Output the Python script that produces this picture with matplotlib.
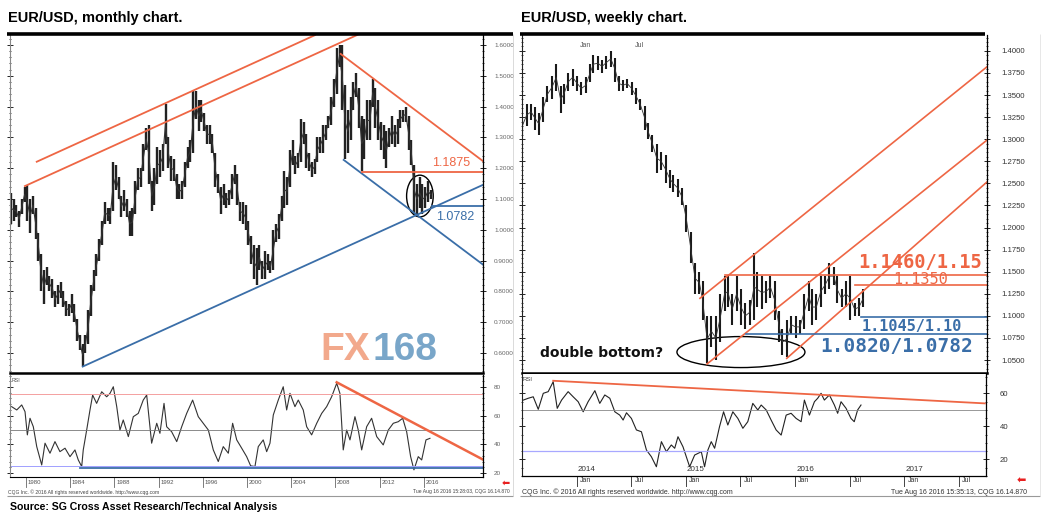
import numpy as np
import matplotlib
matplotlib.use('Agg')
import matplotlib.pyplot as plt
from matplotlib.patches import Ellipse
from matplotlib.lines import Line2D
from matplotlib.ticker import MultipleLocator, FixedLocator

# ---------------- data: monthly chart (quarterly bar ranges) ----------------
m_start = 1978.5
m_lo = [
    1.02, 1.03,
    1.04, 1.01, 1.05, 1.09,
    1.03, 0.99, 1.05, 0.97,
    0.90, 0.80, 0.76, 0.82,
    0.80, 0.78, 0.75, 0.76,
    0.78, 0.75, 0.72, 0.72,
    0.73, 0.70, 0.64, 0.61,
    0.557, 0.60, 0.63, 0.72,
    0.80, 0.85, 0.90, 0.95,
    1.02, 1.03, 1.02, 1.06,
    1.13, 1.10, 1.04, 1.06,
    1.04, 0.98, 0.98, 1.05,
    1.13, 1.14, 1.19, 1.26,
    1.15, 1.06, 1.08, 1.15,
    1.17, 1.19, 1.28, 1.20,
    1.16, 1.16, 1.10, 1.10,
    1.10, 1.14, 1.20, 1.22,
    1.25, 1.36, 1.32, 1.35,
    1.32, 1.28, 1.28, 1.25,
    1.14, 1.12, 1.05, 1.08,
    1.07, 1.08, 1.10, 1.15,
    1.08, 1.03, 1.02, 1.00,
    0.95, 0.89, 0.84, 0.82,
    0.87, 0.84, 0.84, 0.87,
    0.86, 0.87, 0.96, 0.97,
    1.03, 1.07, 1.08, 1.14,
    1.21, 1.18, 1.20, 1.22,
    1.28, 1.20, 1.19, 1.17,
    1.18, 1.22, 1.25, 1.25,
    1.29, 1.33, 1.34, 1.40,
    1.44, 1.53, 1.39, 1.23,
    1.25, 1.29, 1.39, 1.43,
    1.33, 1.19, 1.23, 1.29,
    1.29, 1.40, 1.33, 1.29,
    1.26, 1.23, 1.20, 1.27,
    1.28, 1.27, 1.28, 1.33,
    1.35, 1.35, 1.26, 1.21,
    1.05, 1.05, 1.07, 1.05,
    1.07, 1.09, 1.10,
]
m_hi = [
    1.12, 1.10,
    1.08, 1.06, 1.10, 1.14,
    1.145, 1.10, 1.11, 1.07,
    0.99, 0.92, 0.87, 0.88,
    0.85, 0.84, 0.80, 0.82,
    0.83, 0.80, 0.77, 0.76,
    0.79, 0.76, 0.71, 0.66,
    0.63, 0.66, 0.74, 0.82,
    0.87, 0.92, 0.97, 1.03,
    1.09, 1.07, 1.07, 1.22,
    1.21, 1.17, 1.11, 1.13,
    1.10, 1.06, 1.07, 1.16,
    1.20, 1.20, 1.28, 1.33,
    1.34, 1.16, 1.20, 1.27,
    1.26, 1.28, 1.41, 1.30,
    1.24, 1.23, 1.18, 1.15,
    1.16, 1.22, 1.27, 1.29,
    1.45, 1.45, 1.42, 1.42,
    1.38, 1.34, 1.34, 1.31,
    1.25, 1.18, 1.14, 1.15,
    1.12, 1.13, 1.18, 1.21,
    1.18, 1.09, 1.09, 1.08,
    1.03, 0.98, 0.95, 0.94,
    0.95, 0.90, 0.93, 0.92,
    0.90, 1.00, 1.02, 1.05,
    1.11, 1.19, 1.17, 1.26,
    1.29, 1.24, 1.25, 1.36,
    1.35, 1.31, 1.25, 1.22,
    1.23, 1.30, 1.30, 1.34,
    1.34, 1.37, 1.43, 1.49,
    1.59, 1.60, 1.60, 1.47,
    1.39, 1.43, 1.48, 1.51,
    1.46, 1.37, 1.36, 1.42,
    1.42, 1.49, 1.46, 1.42,
    1.35, 1.34, 1.32, 1.33,
    1.37, 1.34, 1.36, 1.39,
    1.39, 1.40, 1.37, 1.29,
    1.21, 1.15, 1.17, 1.15,
    1.14, 1.16, 1.13,
]
m_rsi_t = [1978.70, 1979.16, 1979.61, 1979.91, 1980.12, 1980.36, 1980.66, 1980.97, 1981.42,
           1981.72, 1982.17, 1982.62, 1983.07, 1983.53, 1983.98, 1984.43, 1984.73, 1985.04,
           1985.18, 1985.49, 1985.79, 1986.03, 1986.39, 1986.85, 1987.30, 1987.60, 1987.90,
           1988.21, 1988.50, 1988.80, 1989.26, 1989.71, 1990.16, 1990.61, 1990.92, 1991.37,
           1991.83, 1992.12, 1992.49, 1992.73, 1993.18, 1993.64, 1994.09, 1994.54, 1995.08,
           1995.59, 1996.04, 1996.50, 1996.95, 1997.40, 1997.85, 1998.31, 1998.70, 1999.07,
           1999.52, 1999.97, 2000.33, 2000.72, 2001.02, 2001.47, 2001.78, 2002.08, 2002.38,
           2002.83, 2003.28, 2003.59, 2003.89, 2004.34, 2004.64, 2005.09, 2005.40, 2005.85,
           2006.31, 2006.76, 2007.21, 2007.66, 2008.12, 2008.41, 2008.71, 2009.02, 2009.32,
           2009.77, 2010.07, 2010.38, 2010.83, 2011.28, 2011.74, 2012.33, 2012.79, 2013.24,
           2013.69, 2014.09, 2014.45, 2014.81, 2015.11, 2015.50, 2015.81, 2016.20, 2016.56]
m_rsi = [66.3, 64.0, 67.5, 62.8, 46.6, 58.2, 52.3, 38.4, 25.6,
         40.8, 33.8, 41.9, 34.9, 37.3, 31.4, 36.1, 29.1, 24.5,
         36.1, 50.0, 64.0, 74.4, 68.6, 76.7, 73.2, 75.6, 80.2,
         66.3, 50.0, 57.0, 45.4, 59.3, 61.6, 70.9, 74.4, 40.8,
         54.7, 47.7, 68.6, 52.3, 48.8, 41.9, 52.3, 61.6, 70.9,
         59.3, 54.7, 50.0, 36.1, 28.0, 38.4, 33.8, 54.7, 43.1,
         37.3, 31.4, 25.0, 24.5, 38.4, 43.1, 34.9, 40.8, 60.5,
         70.9, 80.2, 64.0, 75.6, 66.3, 70.9, 64.0, 52.3, 46.6,
         54.7, 61.6, 66.3, 73.2, 82.6, 75.6, 36.1, 50.0, 43.1,
         59.3, 50.0, 36.1, 52.3, 58.2, 45.4, 39.6, 50.0, 54.7,
         55.8, 58.2, 48.8, 31.4, 22.2, 31.4, 29.1, 43.1, 44.2]

# trend lines / levels on the monthly chart (date, price)
m_red_up1 = ([1980.97, 2006.15], [1.221, 1.632])
m_red_up2 = ([1979.90, 2010.00], [1.142, 1.633])
m_red_down = ([2008.48, 2021.36], [1.571, 1.223])
m_blue_up = ([1985.13, 2021.36], [0.556, 1.146])
m_blue_down = ([2008.75, 2021.36], [1.227, 0.887])
m_red_level = (2010.38, 1.1875)
m_blue_level = (2016.70, 1.0782)
m_rsi_red = ([2008.12, 2021.30], [83.3, 29.6])
m_rsi_blue = (1984.9, 23.5)
m_years = [1980, 1984, 1988, 1992, 1996, 2000, 2004, 2008, 2012, 2016]

# ---------------- data: weekly chart (two-week bar ranges) ----------------
w_dates = [2013.50, 2013.54, 2013.58, 2013.62, 2013.65, 2013.69, 2013.73, 2013.77, 2013.81, 2013.85,
           2013.88, 2013.92, 2013.96, 2014.00, 2014.04, 2014.08, 2014.12, 2014.15, 2014.19, 2014.23,
           2014.27, 2014.31, 2014.35, 2014.38, 2014.42, 2014.46, 2014.50, 2014.54, 2014.58, 2014.62,
           2014.65, 2014.69, 2014.73, 2014.77, 2014.81, 2014.85, 2014.88, 2014.92, 2014.96, 2015.00,
           2015.04, 2015.08, 2015.12, 2015.15, 2015.19, 2015.23, 2015.27, 2015.31, 2015.35, 2015.38,
           2015.42, 2015.46, 2015.50, 2015.54, 2015.58, 2015.62, 2015.65, 2015.69, 2015.73, 2015.77,
           2015.81, 2015.85, 2015.88, 2015.92, 2015.96, 2016.00, 2016.04, 2016.08, 2016.12, 2016.15,
           2016.19, 2016.23, 2016.27, 2016.31, 2016.35, 2016.38, 2016.42, 2016.46, 2016.50, 2016.54,
           2016.58, 2016.62]
w_lo = [1.305, 1.315, 1.322, 1.310, 1.305, 1.320, 1.342, 1.345, 1.355, 1.330,
        1.340, 1.355, 1.360, 1.355, 1.350, 1.352, 1.365, 1.375, 1.378, 1.375,
        1.380, 1.382, 1.365, 1.355, 1.355, 1.358, 1.350, 1.340, 1.333, 1.310,
        1.300, 1.285, 1.262, 1.265, 1.250, 1.245, 1.240, 1.235, 1.225, 1.195,
        1.160, 1.125, 1.125, 1.095, 1.047, 1.065, 1.050, 1.070, 1.105, 1.110,
        1.090, 1.105, 1.090, 1.085, 1.090, 1.095, 1.110, 1.108, 1.115, 1.120,
        1.095, 1.070, 1.056, 1.053, 1.080, 1.075, 1.080, 1.085, 1.105, 1.090,
        1.095, 1.110, 1.125, 1.130, 1.135, 1.115, 1.110, 1.110, 1.095, 1.100,
        1.100, 1.110]
w_hi = [1.325, 1.340, 1.340, 1.336, 1.330, 1.348, 1.360, 1.372, 1.385, 1.360,
        1.362, 1.375, 1.380, 1.372, 1.365, 1.370, 1.385, 1.395, 1.394, 1.390,
        1.394, 1.400, 1.392, 1.372, 1.367, 1.368, 1.365, 1.358, 1.345, 1.338,
        1.318, 1.305, 1.295, 1.285, 1.282, 1.265, 1.260, 1.255, 1.245, 1.225,
        1.195, 1.160, 1.150, 1.140, 1.100, 1.100, 1.100, 1.125, 1.145, 1.145,
        1.125, 1.145, 1.130, 1.115, 1.118, 1.171, 1.150, 1.145, 1.140, 1.145,
        1.140, 1.105, 1.085, 1.095, 1.100, 1.100, 1.095, 1.125, 1.140, 1.130,
        1.125, 1.145, 1.145, 1.160, 1.155, 1.145, 1.130, 1.140, 1.145, 1.115,
        1.120, 1.130]
w_rsi_t = [2013.509, 2013.554, 2013.600, 2013.646, 2013.692, 2013.737, 2013.783, 2013.820, 2013.860,
           2013.920, 2013.966, 2014.012, 2014.058, 2014.103, 2014.165, 2014.210, 2014.256, 2014.302,
           2014.348, 2014.393, 2014.424, 2014.455, 2014.500, 2014.546, 2014.592, 2014.638, 2014.683,
           2014.729, 2014.775, 2014.821, 2014.866, 2014.897, 2014.927, 2014.973, 2015.034, 2015.080,
           2015.141, 2015.171, 2015.201, 2015.232, 2015.263, 2015.308, 2015.345, 2015.384, 2015.430,
           2015.476, 2015.522, 2015.567, 2015.613, 2015.659, 2015.690, 2015.736, 2015.781, 2015.827,
           2015.873, 2015.919, 2015.964, 2016.010, 2016.056, 2016.086, 2016.132, 2016.178, 2016.208,
           2016.239, 2016.269, 2016.315, 2016.361, 2016.391, 2016.422, 2016.468, 2016.513, 2016.543,
           2016.574, 2016.605]
w_rsi = [55.9, 57.0, 57.9, 50.3, 60.0, 61.0, 67.0, 50.9, 55.9,
         61.0, 57.9, 54.9, 48.8, 54.9, 61.6, 53.9, 59.0, 57.0,
         48.8, 46.8, 43.8, 48.2, 44.8, 37.8, 36.7, 25.6, 21.6,
         15.5, 30.7, 24.6, 28.7, 26.7, 33.7, 27.6, 15.5, 22.6,
         24.6, 15.5, 25.6, 30.7, 26.7, 39.8, 48.8, 40.8, 48.8,
         44.8, 38.8, 42.8, 53.9, 49.9, 52.9, 49.9, 43.8, 37.8,
         34.7, 46.8, 47.9, 44.8, 42.8, 55.9, 46.8, 54.9, 57.0,
         60.0, 55.9, 59.0, 52.9, 47.9, 54.9, 50.9, 44.8, 42.8,
         49.9, 52.9]

w_red_ch1 = ([2015.125, 2017.772], [1.1199, 1.3841])
w_red_ch2 = ([2015.189, 2017.772], [1.0455, 1.3011])
w_red_ch3 = ([2015.919, 2017.772], [1.0519, 1.2539])
w_red_lvl1 = (2015.354, 1.1460)
w_red_lvl2 = (2016.543, 1.1350)
w_blue_lvl1 = (2016.60, 1.0990)
w_blue_lvl2 = (2015.55, 1.0790)
w_rsi_red = ([2013.783, 2017.74], [67.6, 53.9])
w_years = [2014, 2015, 2016, 2017]

# ---------------- styling ----------------
RED = '#ee6644'
BLUE = '#3a6ea8'
W, H = 1047, 523
fig = plt.figure(figsize=(W / 100, H / 100), dpi=100)
fig.patch.set_facecolor('white')
plt.rcParams['font.family'] = ['Liberation Sans', 'DejaVu Sans']


def px_axes(x0, y0, x1, y1):
    return fig.add_axes([x0 / W, 1 - y1 / H, (x1 - x0) / W, (y1 - y0) / H])


def fline(x0, x1, y0, y1, lw, color):
    fig.add_artist(Line2D([x0 / W, x1 / W], [1 - y0 / H, 1 - y1 / H],
                          transform=fig.transFigure, lw=lw, color=color,
                          solid_capstyle='butt'))


def ftext(x, y, s, **kw):
    fig.text(x / W, 1 - y / H, s, **kw)


def style_axes(ax, bottom_thick=False):
    for s in ['top', 'bottom', 'left', 'right']:
        ax.spines[s].set_visible(False)
    ax.spines['right'].set_visible(True)
    ax.spines['right'].set_linewidth(0.9)
    ax.spines['left'].set_visible(True)
    ax.spines['left'].set_color('#888888')
    ax.spines['left'].set_linewidth(0.8)
    if bottom_thick:
        ax.spines['bottom'].set_visible(True)
        ax.spines['bottom'].set_linewidth(1.8)
    ax.set_xticks([])
    ax.yaxis.tick_right()
    ax.tick_params(axis='y', which='major', direction='inout', length=4, width=0.6,
                   left=True, right=True, labelleft=False, labelright=True,
                   labelsize=4.6, labelcolor='#666666', pad=6)
    ax.tick_params(axis='y', which='minor', direction='inout', length=2, width=0.5,
                   left=True, right=True)


# ======================= LEFT: monthly =======================
ax1 = px_axes(10, 35, 483, 373)
m_t = m_start + 0.125 + 0.25 * np.arange(len(m_lo))
ax1.text(2006.6, 0.609, 'FX', color='#f2a98c', fontsize=28, fontweight='bold', va='center')
ax1.text(2011.4, 0.609, '168', color='#79a6c9', fontsize=28, fontweight='bold', va='center')
ax1.vlines(m_t, m_lo, m_hi, color='#222222', lw=1.7)
ax1.plot(m_t, (np.array(m_lo) + np.array(m_hi)) / 2, color='#333333', lw=0.8)
ax1.set_xlim(1978.55, 2021.36)
ax1.set_ylim(0.5351, 1.6325)
style_axes(ax1, bottom_thick=True)
ax1.yaxis.set_major_locator(FixedLocator(np.arange(0.6, 1.61, 0.1)))
ax1.yaxis.set_minor_locator(MultipleLocator(0.02))
ax1.set_yticklabels(['%.4f' % v for v in np.arange(0.6, 1.61, 0.1)])

for xs, ys in [m_red_up1, m_red_up2, m_red_down]:
    ax1.plot(xs, ys, color=RED, lw=1.3, clip_on=True)
for xs, ys in [m_blue_up, m_blue_down]:
    ax1.plot(xs, ys, color=BLUE, lw=1.3)
ax1.plot([m_red_level[0], 2021.36], [m_red_level[1]] * 2, color=RED, lw=1.3)
ax1.plot([m_blue_level[0], 2021.36], [m_blue_level[1]] * 2, color=BLUE, lw=1.3)
ax1.text(2016.75, m_red_level[1] + 0.03, '1.1875', color=RED, fontsize=9, va='center')
ax1.text(2017.1, m_blue_level[1] - 0.035, '1.0782', color=BLUE, fontsize=9, va='center')
ax1.add_patch(Ellipse((2015.65, 1.1097), 2.41, 0.1354, fill=False, color='black', lw=1.0))

ax2 = px_axes(10, 375, 483, 477)
ax2.plot(m_rsi_t, m_rsi, color='#333333', lw=0.8)
ax2.set_xlim(1978.55, 2021.36)
ax2.set_ylim(17.2, 88.4)
style_axes(ax2)
ax2.spines['bottom'].set_visible(True)
ax2.spines['bottom'].set_linewidth(0.8)
ax2.yaxis.set_major_locator(FixedLocator([20, 40, 60, 80]))
ax2.yaxis.set_minor_locator(MultipleLocator(4))
ax2.axhline(75, color='#f4a0a0', lw=0.7)
ax2.axhline(50, color='#777777', lw=0.6)
ax2.axhline(25, color='#a0a0ff', lw=0.7)
ax2.plot([m_rsi_blue[0], 2021.36], [m_rsi_blue[1]] * 2, color=BLUE, lw=1.3)
ax2.plot(*m_rsi_red, color=RED, lw=1.8)
ax2.text(0.003, 0.97, 'RSI', transform=ax2.transAxes, fontsize=3.8, color='#555555', va='top')
for yr in m_years:
    ax2.plot([yr, yr], [0, -0.1], transform=ax2.get_xaxis_transform(), color='#666666',
             lw=0.6, clip_on=False)
    ax2.text(yr + 0.15, -0.05, str(yr), transform=ax2.get_xaxis_transform(), fontsize=4.3,
             color='#555555', va='center')

# ======================= RIGHT: weekly =======================
ax3 = px_axes(522, 35, 987, 373)
ax3.vlines(w_dates, w_lo, w_hi, color='#1a1a1a', lw=1.5)
ax3.plot(w_dates, (np.array(w_lo) + np.array(w_hi)) / 2, color='#333333', lw=0.6)
ax3.set_xlim(2013.497, 2017.751)
ax3.set_ylim(1.0353, 1.418)
style_axes(ax3, bottom_thick=True)
ax3.spines['left'].set_color('#222222')
wt = np.arange(1.05, 1.4001, 0.025)
ax3.yaxis.set_major_locator(FixedLocator(wt))
ax3.yaxis.set_minor_locator(MultipleLocator(0.005))
ax3.set_yticklabels(['%.4f' % v for v in wt])
ax3.tick_params(axis='y', labelsize=5.6, labelcolor='#333333', pad=8)
for xs, ys in [w_red_ch1, w_red_ch2, w_red_ch3]:
    ax3.plot(xs, ys, color=RED, lw=1.2)
ax3.plot([w_red_lvl1[0], 2017.751], [w_red_lvl1[1]] * 2, color=RED, lw=1.2)
ax3.plot([w_red_lvl2[0], 2017.751], [w_red_lvl2[1]] * 2, color=RED, lw=1.2)
ax3.plot([w_blue_lvl1[0], 2017.751], [w_blue_lvl1[1]] * 2, color=BLUE, lw=1.2)
ax3.plot([w_blue_lvl2[0], 2017.751], [w_blue_lvl2[1]] * 2, color=BLUE, lw=1.2)
ax3.text(2016.57, 1.160, '1.1460/1.15', color=RED, fontsize=13.5, family='DejaVu Sans Mono',
         va='center', fontweight='bold')
ax3.text(2016.89, 1.1406, '1.1350', color=RED, fontsize=11, family='DejaVu Sans Mono',
         va='center')
ax3.text(2016.60, 1.0877, '1.1045/1.10', color=BLUE, fontsize=11, family='DejaVu Sans Mono',
         va='center', fontweight='bold')
ax3.text(2016.23, 1.0658, '1.0820/1.0782', color=BLUE, fontsize=14, family='DejaVu Sans Mono',
         va='center', fontweight='bold')
ax3.add_patch(Ellipse((2015.50, 1.059), 1.171, 0.0351, fill=False, color='black', lw=1.0))
ax3.text(2013.66, 1.0575, 'double bottom?', fontsize=10, fontweight='bold',
         family='DejaVu Sans', va='center', color='#111111')
ax3.text(2014.03, 0.965, 'Jan', transform=ax3.get_xaxis_transform(), fontsize=5, color='#555555')
ax3.text(2014.53, 0.965, 'Jul', transform=ax3.get_xaxis_transform(), fontsize=5, color='#555555')

ax4 = px_axes(522, 374, 986, 476)
ax4.plot(w_rsi_t, w_rsi, color='#222222', lw=0.8)
ax4.set_xlim(2013.497, 2017.751)
ax4.set_ylim(9.9, 71.7)
style_axes(ax4)
ax4.spines['left'].set_color('#222222')
ax4.spines['bottom'].set_visible(True)
ax4.spines['bottom'].set_linewidth(0.9)
ax4.yaxis.set_major_locator(FixedLocator([20, 40, 60]))
ax4.yaxis.set_minor_locator(MultipleLocator(5))
ax4.tick_params(axis='y', labelsize=5.6, labelcolor='#333333', pad=8)
ax4.axhline(50, color='#888888', lw=0.6)
ax4.axhline(25, color='#a8a8ff', lw=0.9)
ax4.plot(*w_rsi_red, color=RED, lw=1.3)
ax4.text(0.002, 0.97, 'RSI', transform=ax4.transAxes, fontsize=4.3, color='#444444', va='top')
for yr in w_years:
    for k, lab in [(0.0, 'Jan'), (0.5, 'Jul')]:
        d = yr + k
        ax4.plot([d, d], [0, -0.1], transform=ax4.get_xaxis_transform(), color='#444444',
                 lw=0.7, clip_on=False)
        ax4.text(d + 0.03, -0.04, lab, transform=ax4.get_xaxis_transform(), fontsize=5,
                 color='#333333', va='center')
    ax4.text(yr + 0.01, 0.06, str(yr), transform=ax4.get_xaxis_transform(), fontsize=5.8,
             color='#333333', va='center')

# ======================= frame decorations =======================
fline(7, 513, 34, 34, 2.6, 'black')
fline(520, 985, 34, 34, 2.6, 'black')
fline(7, 513, 496, 496, 0.8, '#999999')
fline(520, 1040, 496, 496, 0.8, '#999999')
fline(513, 513, 34, 496, 0.5, '#cccccc')
fline(1040, 1040, 34, 496, 0.5, '#dddddd')

ftext(8, 18, 'EUR/USD, monthly chart.', fontsize=10.5, fontweight='bold', va='center')
ftext(521, 18, 'EUR/USD, weekly chart.', fontsize=10.5, fontweight='bold', va='center')
ftext(10, 507, 'Source: SG Cross Asset Research/Technical Analysis', fontsize=7.6,
      fontweight='bold', va='center')
ftext(8, 492, 'CQG Inc. \u00a9 2016 All rights reserved worldwide. http://www.cqg.com',
      fontsize=3.6, color='#444444', va='center')
ftext(510, 492, 'Tue Aug 16 2016 15:28:03, CQG 16.14.870', fontsize=3.6, color='#444444',
      va='center', ha='right')
ftext(522, 492, 'CQG Inc. \u00a9 2016 All rights reserved worldwide. http://www.cqg.com',
      fontsize=5, color='#333333', va='center')
ftext(1027, 492, 'Tue Aug 16 2016 15:35:13, CQG 16.14.870', fontsize=5, color='#333333',
      va='center', ha='right')
ftext(506, 483, '\u2b05', fontsize=7, color='#e82020', va='center', ha='center',
      family='DejaVu Sans')
ftext(1021, 481, '\u2b05', fontsize=8, color='#e82020', va='center', ha='center',
      family='DejaVu Sans')

fig.savefig('out.png', dpi=100, facecolor='white')
